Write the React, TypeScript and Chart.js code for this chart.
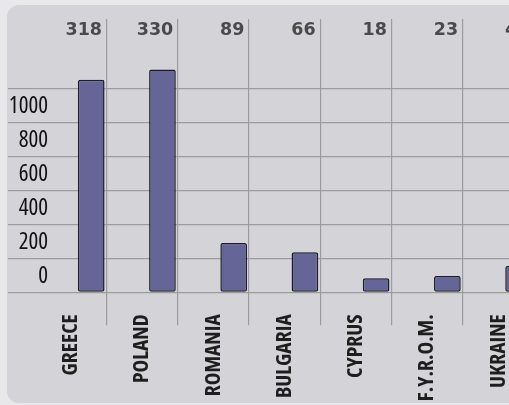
import React, { useEffect, useRef } from "react";
import { Chart, registerables } from "chart.js";

Chart.register(...registerables);

const categories = ["GREECE", "POLAND", "ROMANIA", "BULGARIA", "CYPRUS", "F.Y.R.O.M.", "UKRAINE"];
const barValues = [1250, 1310, 290, 235, 82, 96, 155];
const topValues = ["318", "330", "89", "66", "18", "23", "40"];
const yTickValues = [0, 200, 400, 600, 800, 1000];
const yMax = 1200;
const yStep = 200;

const CONDENSED = '"Open Sans", Roboto, sans-serif';
const GRID = "#9c9ca0";
const Y_FONT_SIZE = 23;

export default function App() {
  const ref = useRef<HTMLCanvasElement | null>(null);

  useEffect(() => {
    if (!ref.current) return;
    // measure widest y label so the mirrored labels end at the right place
    const m = document.createElement("canvas").getContext("2d")!;
    m.font = `condensed ${Y_FONT_SIZE}px ${CONDENSED}`;
    const widest = Math.max(...yTickValues.map((v) => m.measureText(String(v)).width));
    const yAxisWidth = 35.4;
    const yLabelRight = 48;

    const hideFirst = (ctx: any) => (ctx.index === 0 ? "rgba(0,0,0,0)" : GRID);
    const chart = new Chart(ref.current, {
      type: "bar",
      data: {
        labels: categories,
        datasets: [
          {
            data: categories.map(() => null),
            backgroundColor: "rgba(0,0,0,0)",
            borderWidth: 0,
          },
          {
            data: barValues,
            backgroundColor: "#656597",
            borderColor: "#1c1c26",
            borderWidth: 1.5,
            borderRadius: 2,
            borderSkipped: false,
            clip: false as any,
          },
        ],
      },
      options: {
        animation: false,
        responsive: false,
        events: [],
        layout: { padding: 0 },
        datasets: {
          bar: { categoryPercentage: 1.135, barPercentage: 0.66 },
        },
        plugins: { legend: { display: false }, tooltip: { enabled: false } },
        scales: {
          x: {
            type: "category",
            position: "bottom",
            offset: true,
            border: { display: false },
            grid: { offset: true, color: hideFirst, lineWidth: 1.2, tickLength: 33, drawTicks: true },
            ticks: {
              autoSkip: false,
              minRotation: 90,
              maxRotation: 90,
              padding: -11,
              color: "#1e1e1e",
              font: { family: CONDENSED, size: 21.5, weight: "bold condensed" as any },
            },
            afterFit: (s: any) => {
              s.height = 112.7;
            },
          },
          x2: {
            type: "category",
            position: "top",
            labels: topValues,
            offset: true,
            border: { display: false },
            grid: { offset: true, drawOnChartArea: false, color: hideFirst, lineWidth: 1.2, tickLength: 69.3 },
            ticks: {
              autoSkip: false,
              maxRotation: 0,
              minRotation: 0,
              align: "end",
              labelOffset: 31,
              padding: -22,
              color: "#4a4a4a",
              font: { family: '"DejaVu Sans", Verdana, sans-serif', size: 17.5, weight: "bold" },
            },
            afterFit: (s: any) => {
              s.height = 88.3;
            },
          },
          y: {
            type: "linear",
            min: 0,
            max: yMax,
            border: { display: false },
            grid: { color: GRID, lineWidth: 1.2, tickLength: 27.4 },
            ticks: {
              stepSize: yStep,
              mirror: true,
              crossAlign: "far",
              padding: yLabelRight - yAxisWidth - widest,
              labelOffset: -16,
              color: "#111111",
              font: { family: CONDENSED, size: Y_FONT_SIZE, weight: "condensed" as any },
              callback: (v: any) => (yTickValues.includes(Number(v)) ? String(v) : ""),
            },
            afterFit: (s: any) => {
              s.width = yAxisWidth;
            },
          },
        },
      },
    });
    return () => chart.destroy();
  }, []);

  return (
    <div
      style={{
        position: "fixed",
        left: 0,
        top: 0,
        width: 509,
        height: 405,
        overflow: "hidden",
        background: "#e8e8ea",
      }}
    >
      <div
        style={{
          position: "absolute",
          left: 7,
          top: 5,
          width: 600,
          height: 398,
          borderRadius: 12,
          background: "#d4d3d8",
        }}
      />
      <canvas
        ref={ref}
        width={534}
        height={405}
        style={{ position: "absolute", left: 0, top: 0, width: 534, height: 405 }}
      />
    </div>
  );
}
